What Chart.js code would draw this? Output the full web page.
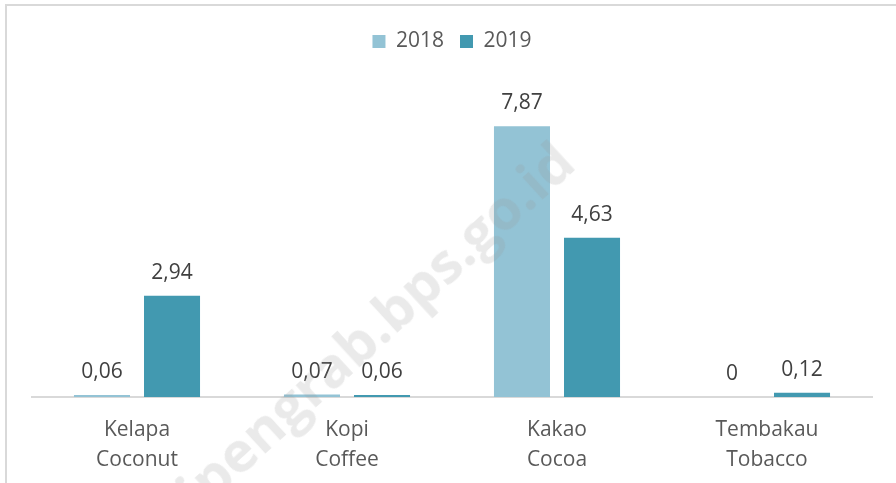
<!DOCTYPE html>
<html>
<head>
<meta charset="utf-8">
<script src="https://cdn.jsdelivr.net/npm/chart.js@4"></script>
<style>
    html, body { margin: 0; padding: 0; background: #fff; }
    #wrap { position: relative; width: 896px; height: 483px; overflow: hidden; }
    #frame { position: absolute; left: 5px; top: 4px; right: 0; bottom: 0;
             border-top: 2px solid #d9d9d9; border-left: 2px solid #d9d9d9; }
    #mark { position: absolute; left: 138px; top: 489px; font: bold 56px "Open Sans", sans-serif;
            color: rgba(150, 150, 150, 0.2); transform: rotate(-42.5deg); transform-origin: left top;
            white-space: nowrap; pointer-events: none; }
    canvas { position: absolute; left: 0; top: 0; }
</style>
</head>
<body>
<div id="wrap">
    <div id="frame"></div>
    <canvas id="chart" width="896" height="483"></canvas>
    <div id="mark">sipengrab.bps.go.id</div>
</div>
<script>
// 类别和数据
const categories = [['Kelapa', 'Coconut'], ['Kopi', 'Coffee'], ['Kakao', 'Cocoa'], ['Tembakau', 'Tobacco']];
const seriesNames = ['2018', '2019'];
const values2018 = [0.06, 0.07, 7.87, 0];
const values2019 = [2.94, 0.06, 4.63, 0.12];

// 柱子上方的数值标签
const valueLabels = {
    id: 'valueLabels',
    afterDatasetsDraw(chart) {
        const ctx = chart.ctx;
        ctx.save();
        ctx.font = '21px "Open Sans", sans-serif';
        ctx.fillStyle = '#404040';
        ctx.textAlign = 'center';
        ctx.textBaseline = 'alphabetic';
        chart.data.datasets.forEach((ds, i) => {
            chart.getDatasetMeta(i).data.forEach((bar, j) => {
                const v = ds.data[j];
                const txt = v === 0 ? '0' : v.toFixed(2).replace('.', ',');
                ctx.fillText(txt, bar.x, bar.y - 17);
            });
        });
        ctx.restore();
    }
};

const ctx = document.getElementById('chart').getContext('2d');
new Chart(ctx, {
    type: 'bar',
    data: {
        labels: categories,
        datasets: [{
            label: seriesNames[0],
            data: values2018,
            backgroundColor: '#93c3d5',
            categoryPercentage: 0.667,
            barPercentage: 0.8
        }, {
            label: seriesNames[1],
            data: values2019,
            backgroundColor: '#4299b0',
            categoryPercentage: 0.667,
            barPercentage: 0.8
        }]
    },
    options: {
        responsive: false,
        animation: false,
        layout: { padding: { left: 32, right: 24, top: 15, bottom: -10 } },
        plugins: {
            legend: {
                position: 'top',
                labels: {
                    boxWidth: 13,
                    boxHeight: 13,
                    padding: 16,
                    color: '#595959',
                    font: { family: 'Open Sans', size: 21 }
                }
            },
            tooltip: { enabled: false }
        },
        scales: {
            x: {
                grid: { display: false, drawTicks: false },
                border: { display: true, color: '#d9d9d9', width: 2 },
                ticks: {
                    color: '#595959',
                    padding: 18,
                    font: { family: 'Open Sans', size: 21, lineHeight: 1.43 }
                }
            },
            y: {
                display: false,
                min: 0,
                max: 9.74
            }
        }
    },
    plugins: [valueLabels]
});
</script>
</body>
</html>
